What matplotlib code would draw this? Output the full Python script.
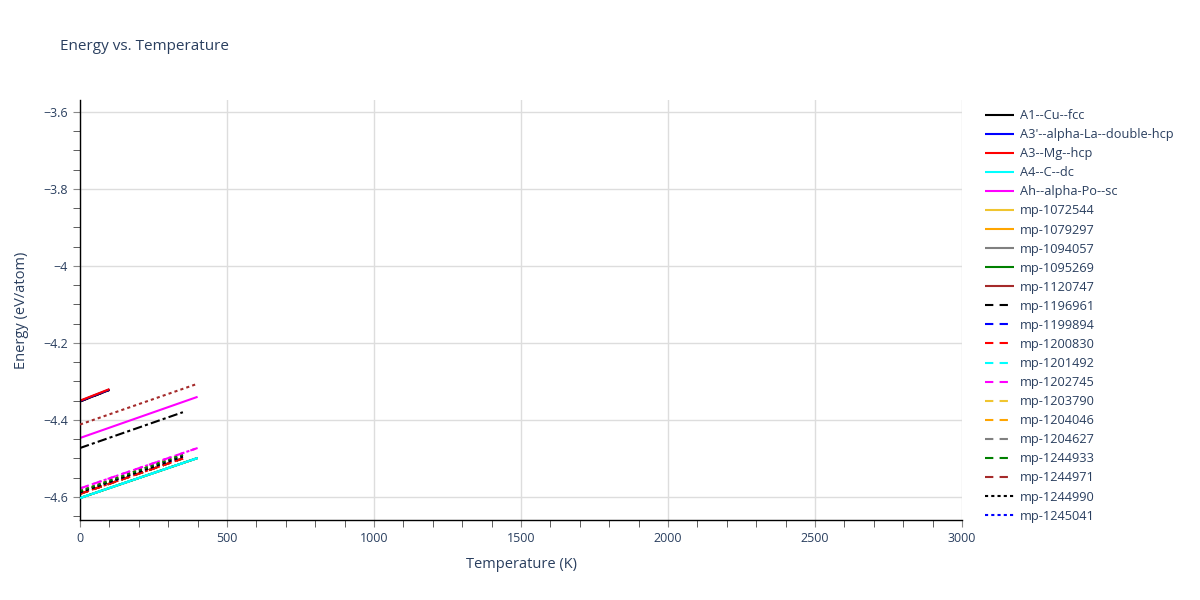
import matplotlib
matplotlib.use("Agg")
import matplotlib.pyplot as plt
from matplotlib.ticker import MultipleLocator, FuncFormatter

plt.rcParams['font.family'] = ['Open Sans', 'DejaVu Sans']

# Datos: cada serie es una recta (temperatura inicial/final, energía inicial/final)
names = [
    "A1--Cu--fcc", "A3'--alpha-La--double-hcp", "A3--Mg--hcp", "A4--C--dc",
    "Ah--alpha-Po--sc", "mp-1072544", "mp-1079297", "mp-1094057", "mp-1095269",
    "mp-1120747", "mp-1196961", "mp-1199894", "mp-1200830", "mp-1201492",
    "mp-1202745", "mp-1203790", "mp-1204046", "mp-1204627", "mp-1244933",
    "mp-1244971", "mp-1244990", "mp-1245041",
    # trazas que no caben en la leyenda
    "_mp-a", "_mp-b", "_mp-c", "_mp-d", "_mp-e", "_mp-f", "_mp-g", "_mp-h", "_mp-i",
]
colors = [
    "black", "blue", "red", "cyan", "magenta", "#f0c530", "orange", "gray", "green",
    "brown", "black", "blue", "red", "cyan", "magenta", "#f0c530", "orange", "gray",
    "green", "brown", "black", "blue",
    "red", "cyan", "magenta", "#f0c530", "orange", "gray", "green", "brown", "black",
]
styles = (["solid"] * 10 + ["dash"] * 10 + ["dot"] * 2
          + ["dot"] * 8 + ["dashdot"])
t_start = [0] * len(names)
t_end = [100, 100, 100, 400, 400, 400, 400, 400, 400, 100,
         100, 350, 350, 400, 400, 350, 350, 350, 350, 100,
         350, 350,
         350, 400, 400, 350, 350, 350, 350, 400, 350]
e_start = [-4.352, -4.351, -4.350, -4.603, -4.447, -4.603, -4.603, -4.603, -4.603, -4.352,
           -4.352, -4.592, -4.592, -4.603, -4.578, -4.592, -4.592, -4.592, -4.592, -4.352,
           -4.588, -4.588,
           -4.592, -4.603, -4.578, -4.585, -4.585, -4.585, -4.585, -4.412, -4.473]
e_end = [-4.322, -4.321, -4.320, -4.499, -4.340, -4.499, -4.499, -4.499, -4.499, -4.322,
         -4.322, -4.500, -4.500, -4.499, -4.473, -4.500, -4.500, -4.500, -4.500, -4.322,
         -4.495, -4.495,
         -4.500, -4.499, -4.473, -4.490, -4.490, -4.490, -4.490, -4.306, -4.380]
# orden de dibujo (las que se ven en el gráfico van encima)
zorders = [2, 2.1, 2.2, 3, 2, 2, 2, 2, 2, 1.9,
           1.9, 2, 2.3, 2, 2.5, 2, 2, 2, 2, 1.9,
           2.35, 2.3,
           2, 2, 2, 2, 2, 2, 2.4, 2.6, 2.6]

dashes = {"solid": None, "dash": (4, 3), "dot": (1.5, 1.5), "dashdot": (4.5, 1.5, 1.5, 1.5)}

fig = plt.figure(figsize=(12, 6), dpi=100)
ax = fig.add_axes([80 / 1200, 80 / 600, 882 / 1200, 420 / 600])

for i in range(len(names)):
    line, = ax.plot([t_start[i], t_end[i]], [e_start[i], e_end[i]],
                    color=colors[i], lw=1.5, label=names[i], zorder=zorders[i])
    if dashes[styles[i]] is not None:
        line.set_dashes(dashes[styles[i]])
    line.set_solid_capstyle("butt")
    line.set_dash_capstyle("butt")

ax.set_xlim(0, 3000)
ax.set_ylim(-4.66, -3.569)
ax.xaxis.set_major_locator(MultipleLocator(500))
ax.xaxis.set_minor_locator(MultipleLocator(100))
ax.yaxis.set_major_locator(MultipleLocator(0.2))
ax.yaxis.set_minor_locator(MultipleLocator(0.05))
ax.yaxis.set_major_formatter(FuncFormatter(lambda v, p: f"{v:g}".replace("-", "\u2212")))
ax.grid(True, which="major", color="#dddddd", lw=1)
ax.set_axisbelow(True)
for s in ["top", "right"]:
    ax.spines[s].set_visible(False)
for s in ["left", "bottom"]:
    ax.spines[s].set_color("black")
    ax.spines[s].set_linewidth(1)
ax.tick_params(which="major", length=5, color="#888888", labelsize=9, labelcolor="#2a3f5f")
ax.tick_params(which="minor", length=5, color="#444444")

ax.set_xlabel("Temperature (K)", fontsize=10.5, color="#2a3f5f", labelpad=9)
ax.set_ylabel("Energy (eV/atom)", fontsize=10.5, color="#2a3f5f", labelpad=10)
fig.text(60 / 1200, 1 - 46 / 600, "Energy vs. Temperature", fontsize=11,
         color="#2a3f5f", va="center")

fig.legend(loc="upper left", bbox_to_anchor=(980 / 1200, 1 - 104 / 600), frameon=False,
           fontsize=9.2, labelcolor="#2a3f5f", handlelength=2.25, handletextpad=0.5,
           labelspacing=0.475, borderaxespad=0)

plt.savefig("out.png", dpi=100)
